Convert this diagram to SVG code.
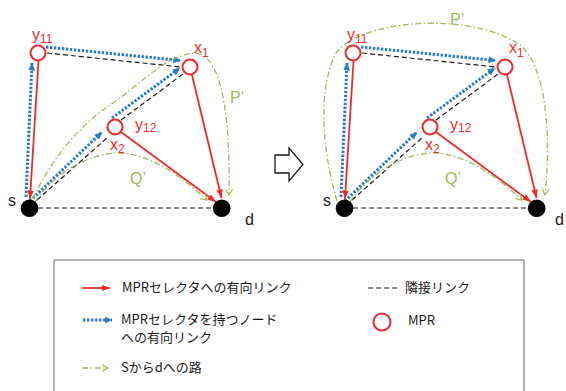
<svg xmlns="http://www.w3.org/2000/svg" width="566" height="391" viewBox="0 0 566 391">
  <style>
    .adj { fill: none; stroke: #1a1a1a; stroke-width: 1.2; stroke-dasharray: 5 3; }
    .sel { fill: none; stroke: #2b7bc3; stroke-width: 3; stroke-dasharray: 2.4 1.6; marker-end: url(#head-blue); }
    .mprlink { fill: none; stroke: #ef2a2a; stroke-width: 1.8; marker-end: url(#head-red); }
    .route { fill: none; stroke: #9bbb59; stroke-width: 1.3; stroke-dasharray: 6 2.5 1.5 2.5; marker-end: url(#head-green); }
    .mpr { fill: #ffffff; stroke: #ef2a2a; stroke-width: 2; }
    .end { fill: #000000; }
    .lbl { font-family: "Liberation Sans", "Noto Sans", sans-serif; font-size: 16px; }
    .red { fill: #ef2a2a; }
    .grn { fill: #9bbb59; }
    .blk { fill: #1a1a1a; }
    .sub { font-size: 12px; }
    .leg { font-family: "Noto Sans CJK JP", "Noto Sans", sans-serif; font-size: 13px; fill: #1a1a1a; }
  </style>
  <defs>
    <marker id="head-red" markerUnits="userSpaceOnUse" markerWidth="9" markerHeight="7" refX="8.5" refY="3.2" orient="auto">
      <path d="M0,0 L8.5,3.2 L0,6.4 z" fill="#ef2a2a"/>
    </marker>
    <marker id="head-blue" markerUnits="userSpaceOnUse" markerWidth="8" markerHeight="8" refX="7.5" refY="3.5" orient="auto">
      <path d="M0,0 L7.5,3.5 L0,7 z" fill="#2b7bc3"/>
    </marker>
    <marker id="head-green" markerUnits="userSpaceOnUse" markerWidth="9" markerHeight="9" refX="6.5" refY="4" orient="auto">
      <path d="M0.5,0.5 L6.5,4 L0.5,7.5" fill="none" stroke="#9bbb59" stroke-width="1.2"/>
    </marker>
  </defs>
  <rect width="566" height="391" fill="#ffffff"/>

  <!-- network before the change -->
  <g id="panel-before">
    <g id="before-connectors">
      <path class="adj" d="M47 53 L181 67"/>
      <path class="adj" d="M37 200 L108 137"/>
      <path class="adj" d="M121 120 L183 74"/>
      <path class="adj" d="M38 208 L213 208"/>
      <path class="sel" d="M26 197 L32 63"/>
      <path class="sel" d="M46 47 L181 60.5"/>
      <path class="sel" d="M30 201 L102 132"/>
      <path class="sel" d="M112 118 L180 68"/>
      <path class="mprlink" d="M38.5 61 L30 199"/>
      <path class="mprlink" d="M121 132 L216 202"/>
      <path class="mprlink" d="M192 75 L221.5 198"/>
      <path class="route" d="M33 199 C50 160, 80 125, 110 105 C140 85, 165 55, 195 53 C225 55, 230 130, 229 195"/>
      <path class="route" d="M35 202 C55 172, 95 148, 130 154 C160 160, 185 180, 207 200"/>
    </g>
    <g id="before-y11">
      <circle class="mpr" cx="38" cy="53" r="7.5"/>
      <text class="lbl red" x="32" y="40">y<tspan class="sub" dy="3">11</tspan></text>
    </g>
    <g id="before-x1">
      <circle class="mpr" cx="190" cy="67" r="7.5"/>
      <text class="lbl red" x="194" y="53">x<tspan class="sub" dy="4">1</tspan></text>
    </g>
    <g id="before-x2">
      <circle class="mpr" cx="115" cy="127" r="7.5"/>
      <text class="lbl red" x="135" y="130">y<tspan class="sub" dy="2">12</tspan></text>
      <text class="lbl red" x="110" y="150">x<tspan class="sub" dy="3">2</tspan></text>
    </g>
    <g id="before-s">
      <circle class="end" cx="29.5" cy="208.3" r="8.8"/>
      <text class="lbl blk" x="8" y="206">s</text>
    </g>
    <g id="before-d">
      <circle class="end" cx="221.7" cy="208.3" r="8.8"/>
      <text class="lbl blk" x="245" y="225">d</text>
    </g>
    <text class="lbl grn" x="230" y="103">P’</text>
    <text class="lbl grn" x="130" y="184">Q’</text>
  </g>

  <!-- transition arrow -->
  <polygon points="275,155 289,155 289,148 303,164.5 289,181 289,173 275,173" fill="#ffffff" stroke="#1a1a1a" stroke-width="1.3" stroke-linejoin="miter"/>

  <!-- network after the change -->
  <g id="panel-after" transform="translate(315,0)">
    <g id="after-connectors">
      <path class="adj" d="M47 53 L181 67"/>
      <path class="adj" d="M37 200 L108 137"/>
      <path class="adj" d="M121 120 L183 74"/>
      <path class="adj" d="M38 208 L213 208"/>
      <path class="sel" d="M26 197 L32 63"/>
      <path class="sel" d="M46 47 L181 60.5"/>
      <path class="sel" d="M30 201 L102 132"/>
      <path class="sel" d="M112 118 L180 68"/>
      <path class="mprlink" d="M38.5 61 L30 199"/>
      <path class="mprlink" d="M121 132 L216 202"/>
      <path class="mprlink" d="M192 75 L221.5 198"/>
      <path class="route" d="M22 201 C7 150, 3 90, 20 55 C40 20, 155 10, 205 45 C235 70, 235 150, 230 195"/>
      <path class="route" d="M35 202 C55 172, 95 148, 130 154 C160 160, 185 180, 207 200"/>
    </g>
    <g id="after-y11">
      <circle class="mpr" cx="38" cy="53" r="7.5"/>
      <text class="lbl red" x="32" y="40">y<tspan class="sub" dy="3">11</tspan></text>
    </g>
    <g id="after-x1">
      <circle class="mpr" cx="190" cy="67" r="7.5"/>
      <text class="lbl red" x="194" y="53">x<tspan class="sub" dy="4">1</tspan></text>
    </g>
    <g id="after-x2">
      <circle class="mpr" cx="115" cy="127" r="7.5"/>
      <text class="lbl red" x="135" y="130">y<tspan class="sub" dy="2">12</tspan></text>
      <text class="lbl red" x="110" y="150">x<tspan class="sub" dy="3">2</tspan></text>
    </g>
    <g id="after-s">
      <circle class="end" cx="29.5" cy="208.3" r="8.8"/>
      <text class="lbl blk" x="8" y="206">s</text>
    </g>
    <g id="after-d">
      <circle class="end" cx="221.7" cy="208.3" r="8.8"/>
      <text class="lbl blk" x="240" y="225">d</text>
    </g>
    <text class="lbl grn" x="135" y="25">P’</text>
    <text class="lbl grn" x="130" y="184">Q’</text>
  </g>

  <!-- legend -->
  <g id="legend">
    <rect x="54" y="260" width="470" height="150" fill="none" stroke="#808080" stroke-width="1.2"/>
    <path class="mprlink" d="M82 288 L110 288"/>
    <text class="leg" x="122" y="292">MPRセレクタへの有向リンク</text>
    <path class="sel" d="M83 320 L112 320"/>
    <text class="leg" x="121" y="324">MPRセレクタを持つノード</text>
    <text class="leg" x="121" y="342">への有向リンク</text>
    <path class="route" d="M82 368 L108 368"/>
    <text class="leg" x="121" y="372">Sからdへの路</text>
    <path class="adj" d="M368 288 L398 288"/>
    <text class="leg" x="405" y="292">隣接リンク</text>
    <circle class="mpr" cx="382" cy="322" r="8.5"/>
    <text class="leg" x="408" y="325">MPR</text>
  </g>
</svg>
